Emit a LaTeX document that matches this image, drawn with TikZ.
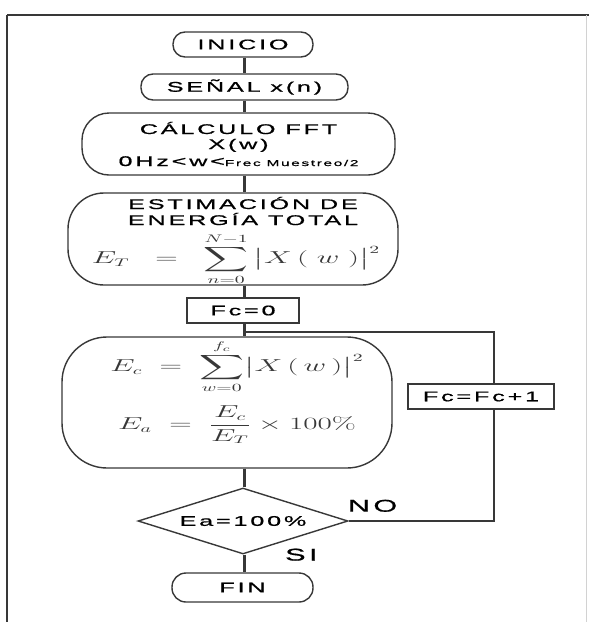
\documentclass[tikz,border=0pt]{standalone}
\usepackage{amsmath}
\usepackage[no-math]{fontspec}
\newfontfamily\widesans{Liberation Sans}[FakeStretch=1.8,LetterSpace=20,FakeBold=0.8]
\usetikzlibrary{shapes.geometric,positioning}

\definecolor{ink}{gray}{0.22}
\tikzstyle{terminal}=[draw=ink,line width=1.4pt,fill=white,rounded corners=12pt,inner sep=0pt,font=\fontsize{14}{16}\widesans]
\tikzstyle{process}=[draw=ink,line width=1.4pt,fill=white,inner sep=0pt,align=center,font=\fontsize{14}{16}\widesans]
\tikzstyle{plainbox}=[draw=ink,line width=1.4pt,fill=white,inner sep=0pt,font=\fontsize{14}{16}\widesans]
\tikzstyle{decision}=[draw=ink,line width=1.4pt,diamond,aspect=3.2,fill=white,inner sep=0pt,font=\fontsize{14}{16}\widesans]
\tikzstyle{answer}=[inner sep=0pt,font=\fontsize{17}{19}\widesans]
\tikzstyle{formula}=[inner sep=0pt,text=ink,font=\fontsize{16}{18}\selectfont]
\tikzstyle{edge} = [draw=ink,line width=3pt,-]
\tikzstyle{loopline} = [draw=ink,line width=1.4pt,-]
\newcommand{\wideformula}[1]{\scalebox{1.8}[1]{$\displaystyle #1$}}

\begin{document}
\begin{tikzpicture}[x=1pt,y=-1pt]
    \useasboundingbox (0,0) rectangle (589,622);
    % scan frame
    \draw[ink,line width=1.2pt] (7,15) -- (589,15);
    \draw[ink,line width=1.2pt] (7,15) -- (7,622);
    \draw[gray!35,line width=0.8pt] (586,15) -- (586,622);

    % main column
    \node[terminal,minimum width=140pt,minimum height=25pt] (inicio) at (243,44.5) {INICIO};
    \node[terminal,minimum width=207pt,minimum height=26pt] (senal) at (244.5,87) {SEÑAL x(n)};
    \node[process,rounded corners=27pt,minimum width=313pt,minimum height=62pt] (fft) at (238.5,144)
        {CÁLCULO FFT\\[-1pt] X(w)\\[1pt] 0Hz<w<{\fontsize{8.5}{10}\selectfont Frec Muestreo/2}};
    \node[process,rounded corners=36pt,minimum width=330pt,minimum height=92pt] (energia) at (233,239) {};
    \node[inner sep=0pt,align=center,font=\fontsize{14}{16}\widesans] (energiatxt) at (243,211)
        {ESTIMACIÓN DE\\ ENERGÍA TOTAL};
    \node[formula] (et) at (236,259)
        {\wideformula{E_T\;\;=\;\;\sum_{n=0}^{N-1}\,\bigl|X\,(\;w\;)\bigr|^2}};
    \node[plainbox,minimum width=112pt,minimum height=25pt] (fc0) at (243,310.5) {Fc=0};
    \coordinate (join) at (244,332);
    \node[process,rounded corners=45pt,minimum width=330pt,minimum height=131pt] (calc) at (227,402.5) {};
    \node[formula] (ec) at (237,367)
        {\wideformula{E_c\;=\;\sum_{w=0}^{f_c}\bigl|X\,(\,w\,)\bigr|^2}};
    \node[formula] (ea) at (237,425)
        {\wideformula{E_a\;=\;\frac{E_c}{E_T}\times 100\%}};
    \node[decision,minimum width=210pt,minimum height=66pt] (dec) at (243,521) {Ea=100\%};
    \node[terminal,rounded corners=14pt,minimum width=141pt,minimum height=29pt] (fin) at (242.5,587.5) {FIN};

    % connectors on the spine
    \foreach \source/\dest in {inicio.south/senal.north, senal.south/fft.north, fft.south/energia.north,
        energia.south/fc0.north, fc0.south/join, join/calc.north, calc.south/dec.north, dec.south/fin.north}
        \path[edge] (\source -| join) -- (\dest -| join);

    % loop back
    \coordinate (turn) at (494,332);
    \path[loopline] (dec.east) -| (turn) -- (join);
    \node[plainbox,minimum width=146pt,minimum height=25pt] (inc) at (481,396.5) {Fc=Fc+1};

    % answers
    \node[answer,anchor=south west] (no) at ([shift={(-1pt,9pt)}]dec.east) {NO};
    \node[answer,anchor=west] (si) at ([xshift=42pt]dec.south) {SI};
\end{tikzpicture}
\end{document}
